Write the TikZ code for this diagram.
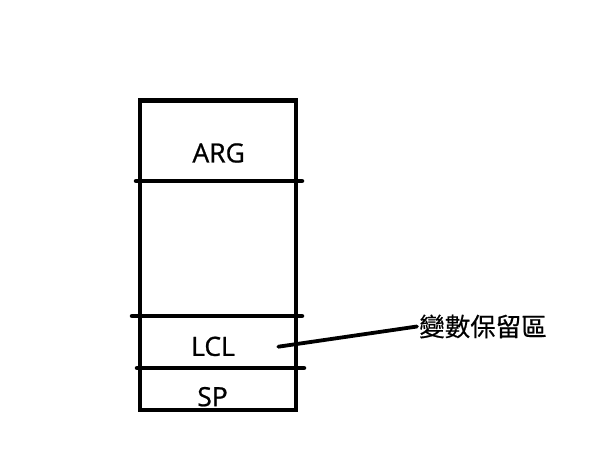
\documentclass[tikz,border=0pt]{standalone}
\usepackage{fontspec}
\setmainfont{Open Sans}[RawFeature={embolden=0.8}]
\newfontfamily\cjk{Noto Sans CJK TC}[RawFeature={embolden=0.5}]
\begin{document}
\begin{tikzpicture}[x=1pt, y=-1pt, line width=4.5pt,
  lbl/.style={font=\fontsize{26.5}{30}\selectfont, inner sep=0pt},
  cjklbl/.style={font=\cjk\fontsize{25.5}{30}\selectfont, inner sep=0pt, anchor=west}]
\useasboundingbox (0,0) rectangle (600,460);
\draw (140,100.7) rectangle (296,410);
\draw[line cap=round] (136,181) -- (302,181);
\draw[line cap=round] (132,316) -- (302,316);
\draw[line cap=round] (137,368) -- (304,368);
\node[lbl] (arg) at (218.7,153) {ARG};
\node[lbl] (lcl) at (213,346.4) {LCL};
\node[lbl] (sp) at (212.5,396.7) {SP};
\coordinate (lcl_pt) at (278.3,346.7);
\node[cjklbl] (var) at (417,326.5) {變數保留區};
\draw[line width=3.8pt, line cap=round] (lcl_pt) -- (var.west);
\end{tikzpicture}
\end{document}
